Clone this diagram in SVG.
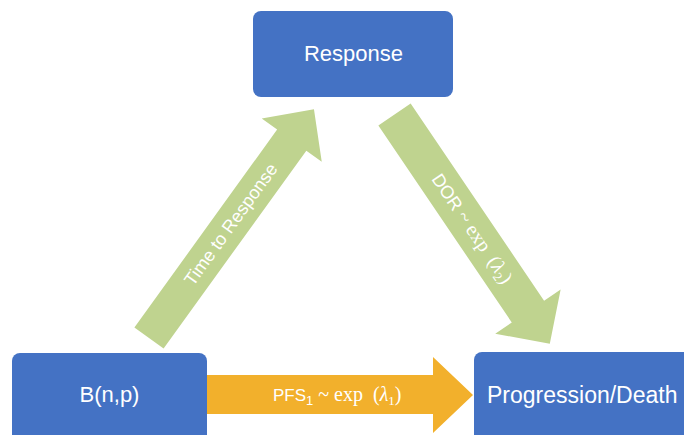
<svg xmlns="http://www.w3.org/2000/svg" width="684" height="435" viewBox="0 0 684 435">
<style>
.box{fill:#4472C4}
.lbl{font-family:"Liberation Sans",Arial,sans-serif;font-size:22px;fill:#fff}
.al{font-family:"Liberation Sans",Arial,sans-serif;font-size:17px;fill:#fff}
.m{font-family:"Liberation Serif","Times New Roman",serif;font-size:20px}
.it{font-style:italic}
.sub{font-size:13px}
.green{fill:#BFD38F}
.orange{fill:#F2B02C}
</style>
<rect width="684" height="435" fill="#fff"/>
<g id="connectors">
  <g id="arrow-time-to-response" transform="translate(149,338) rotate(-54.2)">
    <polygon class="green" points="0,-18 244,-18 244,-37 282,0 244,37 244,18 0,18"/>
    <text class="al" x="140" y="6" text-anchor="middle" style="font-size:18px">Time to Response</text>
  </g>
  <g id="arrow-dor" transform="translate(394.5,114.5) rotate(55.9)">
    <polygon class="green" points="0,-19.5 238,-19.5 238,-39.5 277,0 238,39.5 238,19.5 0,19.5"/>
    <text class="al" x="138" y="6" text-anchor="middle" style="font-size:18px">DOR<tspan class="m">&#160;~&#160;exp&#160;&#160;(</tspan><tspan class="m it">λ</tspan><tspan class="m sub" dy="4">2</tspan><tspan class="m" dy="-4">)</tspan></text>
  </g>
  <g id="arrow-pfs">
    <polygon class="orange" points="207,375 433,375 433,357 473,395 433,433 433,414 207,414"/>
    <text class="al" x="273" y="401">PFS<tspan class="sub" dy="4">1</tspan><tspan class="m" dy="-4">&#160;~&#160;exp&#160;&#160;(</tspan><tspan class="m it">λ</tspan><tspan class="m sub" dy="4">1</tspan><tspan class="m" dy="-4">)</tspan></text>
  </g>
</g>
<g id="node-response">
  <rect class="box" x="253" y="11" width="200" height="86" rx="8"/>
  <text class="lbl" x="353.5" y="61" text-anchor="middle">Response</text>
</g>
<g id="node-bnp">
  <rect class="box" x="12" y="353" width="195" height="95" rx="8"/>
  <text class="lbl" x="109.5" y="402" text-anchor="middle">B(n,p)</text>
</g>
<g id="node-progression">
  <rect class="box" x="474" y="352" width="230" height="95" rx="8"/>
  <text class="lbl" x="487" y="403" style="font-size:23px">Progression/Death</text>
</g>
</svg>
